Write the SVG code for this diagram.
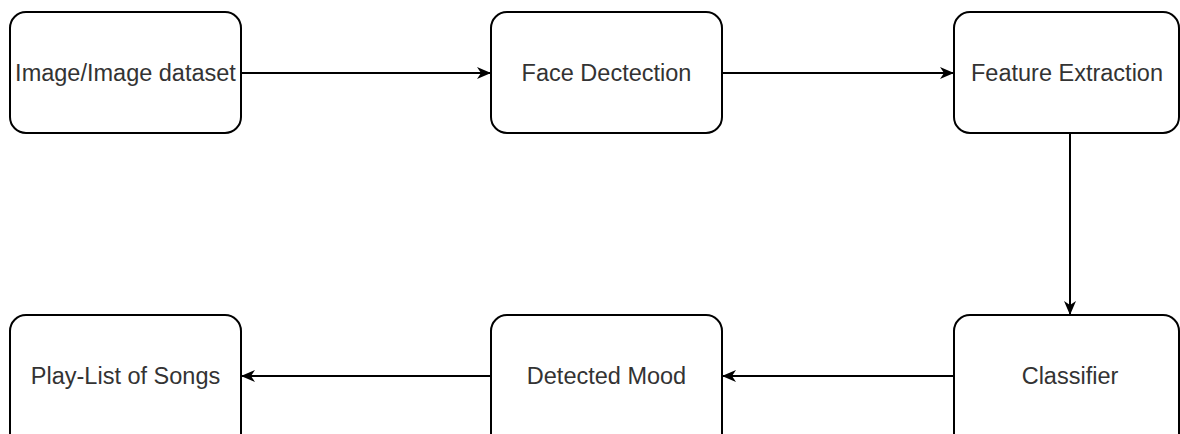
<svg xmlns="http://www.w3.org/2000/svg" width="1180" height="434" viewBox="0 0 1180 434">
  <style>
    .box { fill: #ffffff; stroke: #000000; stroke-width: 2; }
    .label { font-family: "Liberation Sans", Arial, sans-serif; font-size: 23.5px; fill: #333333; text-anchor: middle; dominant-baseline: central; }
    .edge { fill: none; stroke: #000000; stroke-width: 2; marker-end: url(#arrow); }
  </style>
  <defs>
    <marker id="arrow" viewBox="0 0 14 12" refX="13" refY="6" markerWidth="14" markerHeight="12" markerUnits="userSpaceOnUse" orient="auto">
      <path d="M0,0 L14,6 L0,12 L4,6 Z" fill="#000000"/>
    </marker>
  </defs>
  <rect width="1180" height="434" fill="#ffffff"/>

  <g id="connectors">
    <line class="edge" x1="241" y1="73" x2="490" y2="73"/>
    <line class="edge" x1="722" y1="73" x2="953" y2="73"/>
    <line class="edge" x1="1070" y1="133" x2="1070" y2="314"/>
    <line class="edge" x1="954" y1="376" x2="723" y2="376"/>
    <line class="edge" x1="491" y1="376" x2="242" y2="376"/>
  </g>

  <g id="image-dataset">
    <rect class="box" x="10" y="12" width="231" height="121" rx="16"/>
    <text class="label" x="125.5" y="73">Image/Image dataset</text>
  </g>
  <g id="face-detection">
    <rect class="box" x="491" y="12" width="231" height="121" rx="16"/>
    <text class="label" x="606.5" y="73">Face Dectection</text>
  </g>
  <g id="feature-extraction">
    <rect class="box" x="954" y="12" width="225" height="121" rx="16"/>
    <text class="label" x="1067" y="73">Feature Extraction</text>
  </g>
  <g id="classifier">
    <rect class="box" x="954" y="315" width="225" height="135" rx="16"/>
    <text class="label" x="1070" y="376">Classifier</text>
  </g>
  <g id="detected-mood">
    <rect class="box" x="491" y="315" width="231" height="135" rx="16"/>
    <text class="label" x="606.5" y="376">Detected Mood</text>
  </g>
  <g id="playlist">
    <rect class="box" x="10" y="315" width="231" height="135" rx="16"/>
    <text class="label" x="125.5" y="376">Play-List of Songs</text>
  </g>
</svg>
